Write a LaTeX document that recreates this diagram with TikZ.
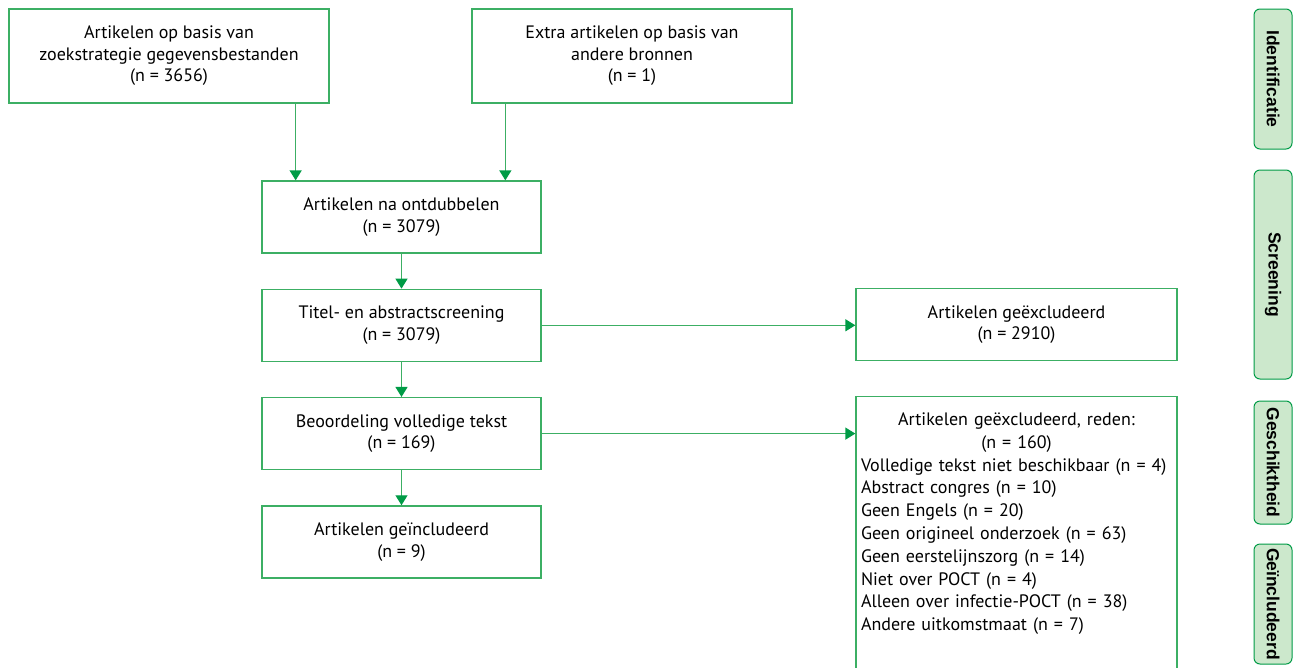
\documentclass[tikz,border=0pt]{standalone}
\usepackage{fontspec}
\setmainfont{PT Sans}
\newfontfamily\tabfont{Liberation Sans}
\usetikzlibrary{arrows.meta,positioning}
\definecolor{boxgreen}{RGB}{60,175,100}
\definecolor{arrowgreen}{RGB}{0,155,70}
\definecolor{tabfill}{RGB}{204,232,204}

\begin{document}
\begin{tikzpicture}[x=1pt,y=-1pt, node distance=35pt,
  box/.style={draw=boxgreen,line width=1.3pt,minimum width=279pt,minimum height=72pt,align=center,inner sep=0pt,font=\fontsize{18}{21.5}\selectfont},
  src/.style={box,minimum width=320pt,minimum height=94pt},
  tab/.style={draw=arrowgreen,fill=tabfill,rounded corners=6pt,line width=1pt,rotate=-90,minimum height=38pt,inner sep=0pt,font=\tabfont\bfseries\fontsize{17.5}{18}\selectfont},
  >={Triangle[width=12pt,length=10pt,color=arrowgreen]}, arr/.style={->,draw=boxgreen,line width=1.3pt}]
\clip (0,0) rectangle (1293,667);
% identificatie
\node[src] (src1) at (169,56) {Artikelen op basis van\\zoekstrategie gegevensbestanden\\(n = 3656)};
\node[src] (src2) at (632,56) {Extra artikelen op basis van\\andere bronnen\\(n = 1)};
% hoofdkolom
\node[box] (dedup) at (401.5,217) {Artikelen na ontdubbelen\\(n = 3079)};
\node[box,below=of dedup] (titel) {Titel- en abstractscreening\\(n = 3079)};
\node[box,below=of titel] (beoord) {Beoordeling volledige tekst\\(n = 169)};
\node[box,below=of beoord] (incl) {Artikelen geïncludeerd\\(n = 9)};
% exclusies
\node[box,minimum width=321pt] (excl1) at (1016.5,324.5) {Artikelen geëxcludeerd\\(n = 2910)};
\node[box,anchor=north,minimum width=321pt,text width=311pt,inner xsep=5pt,inner ysep=16pt,align=left,font=\fontsize{18}{22.8}\selectfont] (excl2) at (1016.5,396)
  {\centering Artikelen geëxcludeerd, reden:\\(n = 160)\par
   \raggedright Volledige tekst niet beschikbaar (n = 4)\\
   Abstract congres (n = 10)\\
   Geen Engels (n = 20)\\
   Geen origineel onderzoek (n = 63)\\
   Geen eerstelijnszorg (n = 14)\\
   Niet over POCT (n = 4)\\
   Alleen over infectie-POCT (n = 38)\\
   Andere uitkomstmaat (n = 7)\par\rule{0pt}{70pt}};
% fasen
\node[tab,minimum width=140pt] (fase1) at (1273,79) {Identificatie};
\node[tab,minimum width=209pt] (fase2) at (1273,274.5) {Screening};
\node[tab,minimum width=123pt] (fase3) at (1273,462.5) {Geschiktheid};
\node[tab,minimum width=120pt] (fase4) at (1273,604) {Geïncludeerd};
% pijlen
\draw[arr] ([xshift=-34pt]src1.south east) -- ([xshift=-34pt]src1.south east |- dedup.north);
\draw[arr] ([xshift=34pt]src2.south west) -- ([xshift=34pt]src2.south west |- dedup.north);
\draw[arr] (dedup) -- (titel);
\draw[arr] (titel) -- (beoord);
\draw[arr] (beoord) -- (incl);
\draw[arr] (titel.east) -- (titel.east -| excl1.west);
\draw[arr] (beoord.east) -- (beoord.east -| excl2.west);
\end{tikzpicture}
\end{document}
